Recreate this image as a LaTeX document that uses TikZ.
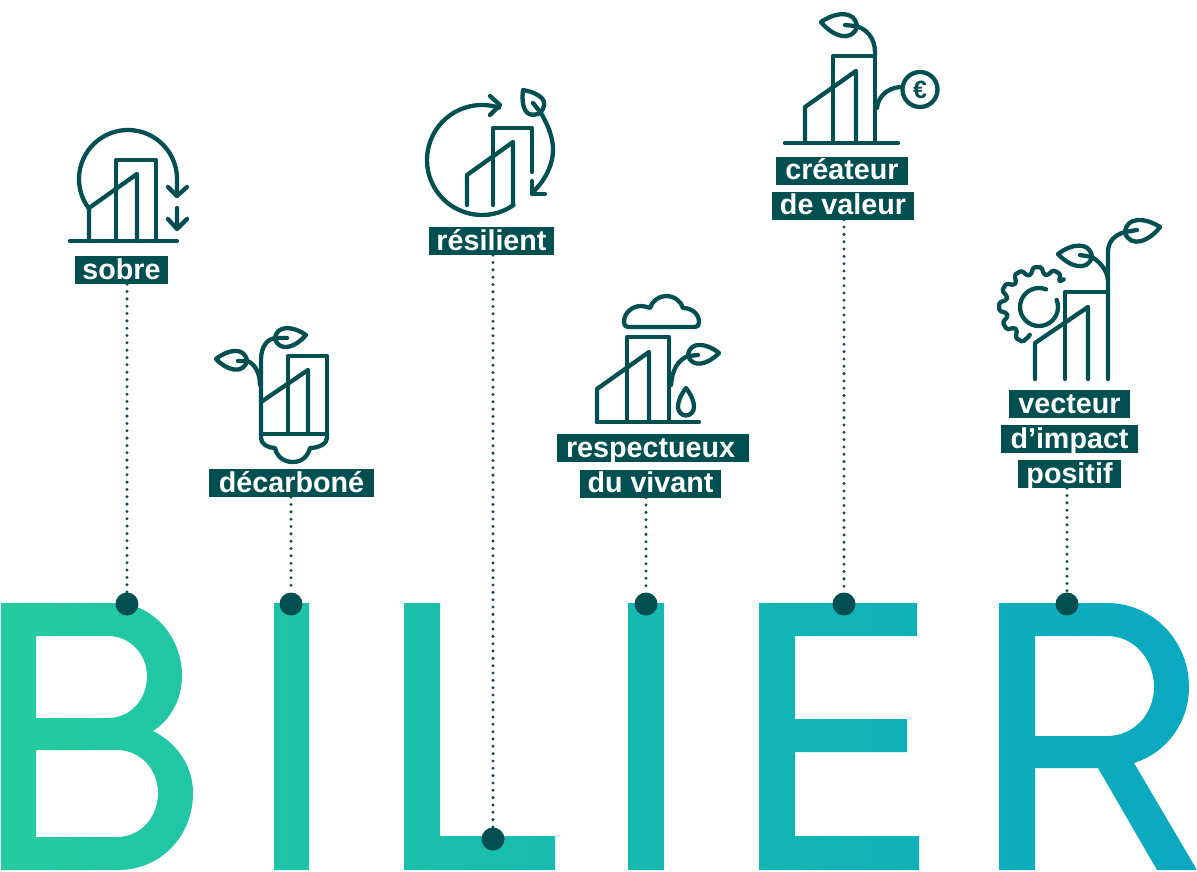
\documentclass[tikz,border=0pt]{standalone}
\usepackage{fontspec}
\setmainfont{Liberation Sans}
\usetikzlibrary{calc}
\definecolor{ink}{HTML}{024F51}
\definecolor{gradL}{HTML}{25CB9F}
\definecolor{gradR}{HTML}{0AA8C1}
\newcommand{\leafshape}[3][1]{%
  \draw[icon] (#3) .. controls ($(#3)!{.5*#1}!43:(#2)$) and ($(#2)!{.47*#1}!-78:(#3)$) .. (#2)
    .. controls ($(#2)!{.47*#1}!78:(#3)$) and ($(#3)!{.5*#1}!-43:(#2)$) .. (#3) -- cycle;}
\tikzset{
  icon/.style={draw=ink,line width=4.3pt,line cap=round,line join=round},
  labelbox/.style={fill=ink,text=white,inner sep=0pt,text height=23pt,text depth=5pt,
    font=\bfseries\fontsize{28.7}{28.7}\selectfont},
  pin/.style={circle,fill=ink,inner sep=0pt,minimum size=23pt},
  dotline/.style={draw=ink,line width=3.3pt,line cap=round,dash pattern=on 0pt off 7.33pt},
}
\begin{document}
\begin{tikzpicture}[x=1pt,y=-1pt]
\useasboundingbox (0,0) rectangle (1197,871);
% letters
\path[left color=gradL,right color=gradR,even odd rule]
  (1,603) -- (115,603) .. controls (152,603) and (182,636) .. (182,676)
    .. controls (182,700) and (170,720) .. (153,731)
    .. controls (177,743) and (193,766) .. (193,793)
    .. controls (193,837) and (160,870) .. (118,870) -- (1,870) -- cycle
  (36,636) -- (108,636) .. controls (130,636) and (147,654) .. (147,676)
    .. controls (147,700) and (130,718) .. (108,718) -- (36,718) -- cycle
  (36,750) -- (117,750) .. controls (140,750) and (158,769) .. (158,793)
    .. controls (158,818) and (140,837) .. (117,837) -- (36,837) -- cycle
  (274,603) rectangle (309,870)
  (404,603) -- (440,603) -- (440,836) -- (555,836) -- (555,870) -- (404,870) -- cycle
  (628,603) rectangle (664,870)
  (759,603) -- (917,603) -- (917,636) -- (795,636) -- (795,719) -- (907,719) -- (907,752)
    -- (795,752) -- (795,836) -- (919,836) -- (919,870) -- (759,870) -- cycle
  (999,603) -- (1107,603) .. controls (1152,603) and (1189,640) .. (1189,687)
    .. controls (1189,723) and (1166,753) .. (1134,763) -- (1197,870) -- (1157,870)
    -- (1098,768) -- (1035,768) -- (1035,870) -- (999,870) -- cycle
  (1035,636) -- (1107,636) .. controls (1134,636) and (1154,659) .. (1154,687)
    .. controls (1154,714) and (1134,736) .. (1107,736) -- (1035,736) -- cycle;
% labels
\node[labelbox,minimum width=93pt] (sobre) at (121.5,270) {sobre};
\node[labelbox,minimum width=165pt] (decarbone) at (291.5,483) {décarboné};
\node[labelbox,minimum width=125pt] (resilient) at (491.5,241) {résilient};
\node[labelbox,minimum width=192pt,text width=174pt,align=left] (respectueux) at (653,448) {respectueux};
\node[labelbox,minimum width=141pt] (vivant) at (650.5,483.5) {du vivant};
\node[labelbox,minimum width=132pt] (createur) at (842,170.5) {créateur};
\node[labelbox,minimum width=142pt] (valeur) at (843,205.5) {de valeur};
\node[labelbox,minimum width=121pt] (vecteur) at (1069.5,404) {vecteur};
\node[labelbox,minimum width=137pt] (impact) at (1069.5,439) {d’impact};
\node[labelbox,minimum width=103pt] (positif) at (1069.5,474) {positif};
% pins
\node[pin] (pinB) at (127,604) {};
\node[pin] (pinI) at (291,604) {};
\node[pin] (pinL) at (493,839) {};
\node[pin] (pinJ) at (646,604) {};
\node[pin] (pinE) at (844,604) {};
\node[pin] (pinR) at (1067,604) {};
% connectors
\draw[dotline] (pinB |- sobre.south) -- (pinB.north);
\draw[dotline] (pinI |- decarbone.south) -- (pinI.north);
\draw[dotline] (resilient.south -| pinL) -- (pinL.north);
\draw[dotline] (pinJ |- vivant.south) -- (pinJ.north);
\draw[dotline] (pinE |- valeur.south) -- (pinE.north);
\draw[dotline] (pinR |- positif.south) -- (pinR.north);
% icon: sobre
\draw[icon] (70,241) -- (177,241);
\draw[icon] (89,241) -- (89,208) -- (137,174) -- (137,241);
\draw[icon] (116,241) -- (116,160) -- (156,160) -- (156,241);
\draw[icon] (128,179) ++(143:49) arc[start angle=143,end angle=360,radius=49] -- (177,196);
\draw[icon] (168,187) -- (177,196) -- (187,187);
\draw[icon] (177,208) -- (177,229) (168,219) -- (177,229) -- (187,219);
% icon: decarbone
\draw[icon] (288,434) -- (288,356) -- (327,356) -- (327,434);
\draw[icon] (261,402) -- (308,370) -- (308,434);
\draw[icon] (261,434) -- (327,434);
\draw[icon] (261,434) -- (261,438) .. controls (261,444) and (268,448) .. (275,448)
  .. controls (277,457) and (284,462) .. (293,462) .. controls (302,462) and (308,456) .. (310,448)
  .. controls (318,448) and (327,444) .. (327,438) -- (327,434);
\draw[icon] (261,434) -- (261,360) .. controls (261,347) and (267,338) .. (277,338) -- (287,338);
\draw[icon] (260,385) .. controls (260,372) and (254,363) .. (247,361) -- (238,361);
\leafshape{275,339}{306,335}
\leafshape{247,361}{216,359}
% icon: resilient
\draw[icon] (482,160) ++(55:55) arc[start angle=55,end angle=288,radius=55];
\draw[icon] (490,96) -- (500,105) -- (490,115);
\draw[icon] (467,205) -- (467,175) -- (513,142) -- (513,204);
\draw[icon] (493,205) -- (493,128) -- (532,128) -- (532,172);
\draw[icon] (532,181) -- (532,194) -- (545,194);
\draw[icon] (532,193) .. controls (548,178) and (556,158) .. (552,140) .. controls (550,130) and (546,122) .. (541,113) -- (533,103);
\leafshape[1.2]{540,113}{523,90}
% icon: respectueux
\draw[icon] (628,327) .. controls (625,327) and (624,325) .. (624,322)
  .. controls (624,313) and (632,306) .. (641,306) .. controls (644,306) and (647,307) .. (650,308)
  .. controls (652,301) and (659,296) .. (666,296) .. controls (674,296) and (681,301) .. (683,308)
  .. controls (692,308) and (699,314) .. (699,322) .. controls (699,325) and (698,327) .. (695,327) -- cycle;
\draw[icon] (597,422) -- (699,422);
\draw[icon] (597,422) -- (597,389) -- (649,352) -- (649,422);
\draw[icon] (627,422) -- (627,337) -- (669,337) -- (669,422);
\draw[icon] (671,385) .. controls (672,370) and (678,360) .. (688,356) -- (698,355);
\leafshape{688,355}{719,353}
\draw[icon] (686,388) .. controls (680,396) and (678,402) .. (678,407)
  .. controls (678,412) and (682,415.5) .. (686,415.5) .. controls (690,415.5) and (694,412) .. (694,407)
  .. controls (694,402) and (692,396) .. (686,388) -- cycle;
% icon: createur
\draw[icon] (785,143) -- (898,143);
\draw[icon] (805,143) -- (805,107) -- (856,71) -- (856,143);
\draw[icon] (833,143) -- (833,56) -- (875,56) -- (875,143);
\draw[icon] (875,56) -- (875,52) .. controls (875,38) and (866,28) .. (855,26) -- (845,25);
\leafshape{857,27}{821,22}
\draw[icon] (877,108) .. controls (878,97) and (887,88) .. (900,87);
\draw[icon] (920,89.5) circle[radius=17.5];
\node[text=ink,inner sep=0pt,font=\bfseries\fontsize{25}{25}\selectfont] (euro) at (920,90) {€};
% icon: vecteur
\draw[icon] (1035,379) -- (1035,343) -- (1088,307) -- (1088,379);
\draw[icon] (1065,379) -- (1065,292) -- (1108,292);
\draw[icon] (1108,379) -- (1108,252) .. controls (1108,242) and (1114,235) .. (1125,232) -- (1137,230);
\draw[icon] (1108,280) .. controls (1107,270) and (1100,262) .. (1092,257) -- (1080,255);
\leafshape{1125,233}{1160,227}
\leafshape{1092,257}{1058,254}
\draw[icon] (1039,307) ++(-22:19) arc[start angle=-22,end angle=292,radius=19];
\begin{scope}[shift={(1038,306)}]
\draw[icon,rounded corners=1.5pt] (-46:37) \foreach \a in {-61,-91,-121,-151,-181,-211,-241} {
   -- (\a+12:32) -- (\a+6:39) -- (\a-6:39) -- (\a-12:32) } -- (-254:30);
\end{scope}
\end{tikzpicture}
\end{document}
